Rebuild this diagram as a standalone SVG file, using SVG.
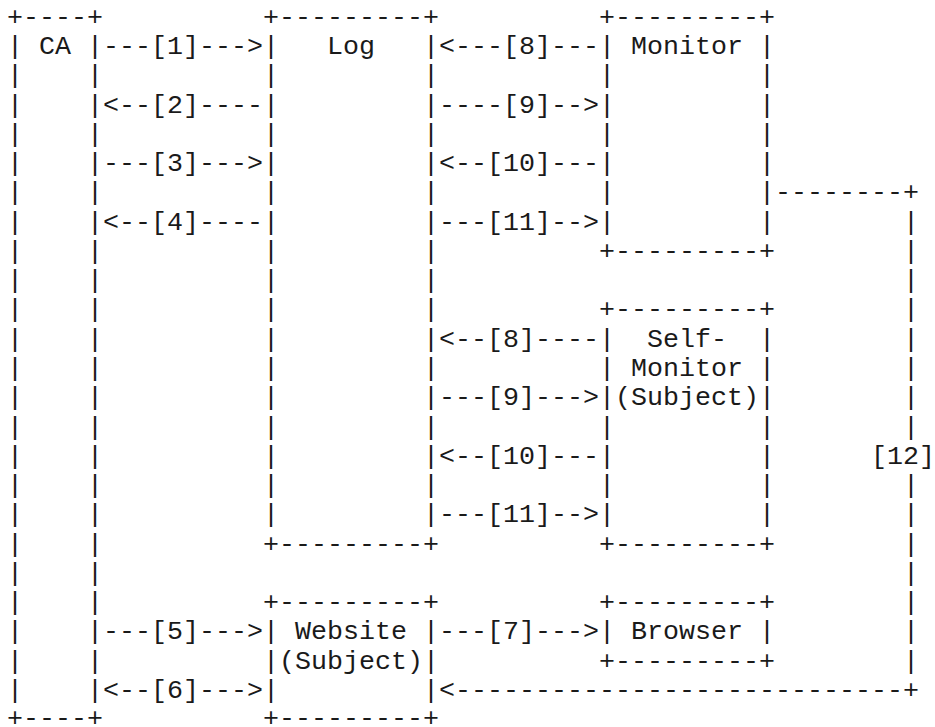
<svg xmlns="http://www.w3.org/2000/svg" width="935" height="727" viewBox="0 0 935 727" xml:space="preserve">
  <style>
    /* character-cell drawing: 16px column advance, 29.27px row pitch */
    text { font-family: "Liberation Mono", "Courier New", monospace; font-size: 26.67px; fill: #1a1a1a; white-space: pre; }
  </style>
  <rect width="935" height="727" fill="#ffffff"/>

  <!-- CA column (col 0-5) -->
  <g id="ca">
    <text x="7" y="24.7">+----+</text>
    <text x="7" y="54.0">| CA |</text>
    <text x="7" y="83.3">|    |</text>
    <text x="7" y="112.5">|    |</text>
    <text x="7" y="141.8">|    |</text>
    <text x="7" y="171.1">|    |</text>
    <text x="7" y="200.3">|    |</text>
    <text x="7" y="229.6">|    |</text>
    <text x="7" y="258.9">|    |</text>
    <text x="7" y="288.1">|    |</text>
    <text x="7" y="317.4">|    |</text>
    <text x="7" y="346.7">|    |</text>
    <text x="7" y="375.9">|    |</text>
    <text x="7" y="405.2">|    |</text>
    <text x="7" y="434.5">|    |</text>
    <text x="7" y="463.8">|    |</text>
    <text x="7" y="493.0">|    |</text>
    <text x="7" y="522.3">|    |</text>
    <text x="7" y="551.6">|    |</text>
    <text x="7" y="580.8">|    |</text>
    <text x="7" y="610.1">|    |</text>
    <text x="7" y="639.4">|    |</text>
    <text x="7" y="668.6">|    |</text>
    <text x="7" y="697.9">|    |</text>
    <text x="7" y="726.2">+----+</text>
  </g>

  <!-- Log column (col 16-26) -->
  <g id="log">
    <text x="263" y="24.7">+---------+</text>
    <text x="263" y="54.0">|   Log   |</text>
    <text x="263" y="83.3">|         |</text>
    <text x="263" y="112.5">|         |</text>
    <text x="263" y="141.8">|         |</text>
    <text x="263" y="171.1">|         |</text>
    <text x="263" y="200.3">|         |</text>
    <text x="263" y="229.6">|         |</text>
    <text x="263" y="258.9">|         |</text>
    <text x="263" y="288.1">|         |</text>
    <text x="263" y="317.4">|         |</text>
    <text x="263" y="346.7">|         |</text>
    <text x="263" y="375.9">|         |</text>
    <text x="263" y="405.2">|         |</text>
    <text x="263" y="434.5">|         |</text>
    <text x="263" y="463.8">|         |</text>
    <text x="263" y="493.0">|         |</text>
    <text x="263" y="522.3">|         |</text>
    <text x="263" y="551.6">+---------+</text>
  </g>

  <!-- Monitor (col 37-47) -->
  <g id="monitor">
    <text x="599" y="24.7">+---------+</text>
    <text x="599" y="54.0">| Monitor |</text>
    <text x="599" y="83.3">|         |</text>
    <text x="599" y="112.5">|         |</text>
    <text x="599" y="141.8">|         |</text>
    <text x="599" y="171.1">|         |</text>
    <text x="599" y="200.3">|         |</text>
    <text x="599" y="229.6">|         |</text>
    <text x="599" y="258.9">+---------+</text>
  </g>

  <!-- Self-Monitor (col 37-47) -->
  <g id="self-monitor">
    <text x="599" y="317.4">+---------+</text>
    <text x="599" y="346.7">|  Self-  |</text>
    <text x="599" y="375.9">| Monitor |</text>
    <text x="599" y="405.2">|(Subject)|</text>
    <text x="599" y="434.5">|         |</text>
    <text x="599" y="463.8">|         |</text>
    <text x="599" y="493.0">|         |</text>
    <text x="599" y="522.3">|         |</text>
    <text x="599" y="551.6">+---------+</text>
  </g>

  <!-- Website (col 16-26) -->
  <g id="website">
    <text x="263" y="610.1">+---------+</text>
    <text x="263" y="639.4">| Website |</text>
    <text x="263" y="668.6">|(Subject)|</text>
    <text x="263" y="697.9">|         |</text>
    <text x="263" y="726.2">+---------+</text>
  </g>

  <!-- Browser (col 37-47) -->
  <g id="browser">
    <text x="599" y="610.1">+---------+</text>
    <text x="599" y="639.4">| Browser |</text>
    <text x="599" y="668.6">+---------+</text>
  </g>

  <!-- message arrows -->
  <g id="connectors">
    <!-- CA <-> Log / Website (col 6) -->
    <text x="103" y="54.0">---[1]---&gt;</text>
    <text x="103" y="112.5">&lt;--[2]----</text>
    <text x="103" y="171.1">---[3]---&gt;</text>
    <text x="103" y="229.6">&lt;--[4]----</text>
    <text x="103" y="639.4">---[5]---&gt;</text>
    <text x="103" y="697.9">&lt;--[6]---&gt;</text>

    <!-- Log <-> Monitor (col 27) -->
    <text x="439" y="54.0">&lt;---[8]---</text>
    <text x="439" y="112.5">----[9]--&gt;</text>
    <text x="439" y="171.1">&lt;--[10]---</text>
    <text x="439" y="229.6">---[11]--&gt;</text>

    <!-- Log <-> Self-Monitor (col 27) -->
    <text x="439" y="346.7">&lt;--[8]----</text>
    <text x="439" y="405.2">---[9]---&gt;</text>
    <text x="439" y="463.8">&lt;--[10]---</text>
    <text x="439" y="522.3">---[11]--&gt;</text>

    <!-- Website -> Browser -->
    <text x="439" y="639.4">---[7]---&gt;</text>

    <!-- Monitor -> Website return path [12] (col 48-56) -->
    <text x="775" y="200.3">--------+</text>
    <text x="903" y="229.6">|</text>
    <text x="903" y="258.9">|</text>
    <text x="903" y="288.1">|</text>
    <text x="903" y="317.4">|</text>
    <text x="903" y="346.7">|</text>
    <text x="903" y="375.9">|</text>
    <text x="903" y="405.2">|</text>
    <text x="903" y="434.5">|</text>
    <text x="871" y="463.8">[12]</text>
    <text x="903" y="493.0">|</text>
    <text x="903" y="522.3">|</text>
    <text x="903" y="551.6">|</text>
    <text x="903" y="580.8">|</text>
    <text x="903" y="610.1">|</text>
    <text x="903" y="639.4">|</text>
    <text x="903" y="668.6">|</text>
    <text x="439" y="697.9">&lt;----------------------------+</text>
  </g>
</svg>
